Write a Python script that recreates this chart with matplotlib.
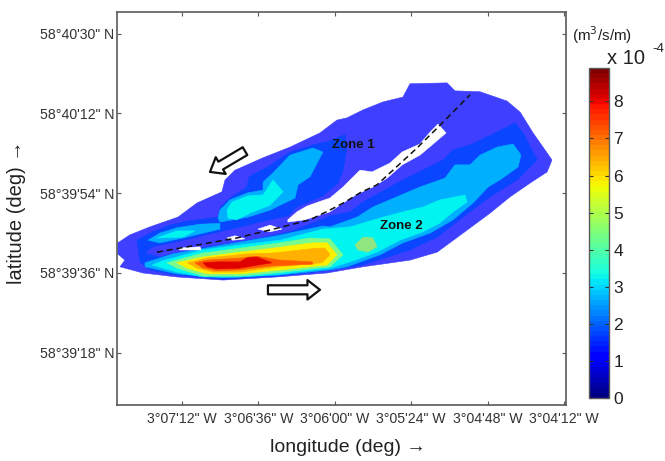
import numpy as np
import matplotlib
matplotlib.use("Agg")
import matplotlib.pyplot as plt
from matplotlib.cm import ScalarMappable
from matplotlib.colors import Normalize
from matplotlib.patches import FancyArrowPatch

plt.rcParams['font.family'] = ['Liberation Sans', 'DejaVu Sans']

# contour outlines, as (lon, lat):
# lon = arcsec east of 3°07'12" W, lat = arcsec north of 58°39'36" N
outer = [(-30.2, 6.8), (-24.5, 8.6), (-15.1, 10.4), (-1.9, 12.6), (7.1, 15.8), (18.8, 18.3), (20.3, 21.0), (25.0, 23.2),
         (38.2, 26.0), (50.9, 28.4), (65.0, 31.6), (73.0, 34.5), (77.7, 35.0), (85.3, 36.8), (94.7, 38.6), (104.1, 39.7),
         (107.4, 42.7), (124.9, 42.9), (128.6, 41.1), (140.4, 40.9), (153.1, 38.8), (159.3, 36.3), (165.4, 31.6),
         (174.3, 25.5), (172.0, 22.8), (164.0, 20.3), (154.6, 17.2), (145.1, 13.5), (132.4, 9.0), (120.2, 4.7),
         (107.4, 2.9), (85.3, 1.4), (68.3, 0.0), (44.8, -0.9), (19.3, -1.6), (-2.4, -0.9), (-18.4, 0.0), (-29.2, 1.4),
         (-26.9, 2.9), (-30.2, 4.3)]
blue = [(-21.2, 7.4), (-15.1, 9.0), (-5.7, 10.8), (2.4, 11.7), (17.0, 12.6), (17.9, 14.7), (22.6, 16.9), (30.6, 19.4),
        (31.6, 21.7), (40.1, 23.9), (50.9, 27.3), (61.7, 28.9), (69.7, 29.8), (76.8, 31.2), (77.7, 27.9), (75.9, 23.2),
        (73.5, 20.3), (66.4, 17.4), (54.2, 14.9), (49.9, 12.9), (41.5, 12.0), (17.9, 9.3), (-0.9, 7.2), (-13.7, 5.9),
        (-17.4, 4.5), (-10.4, 3.6), (8.5, 5.6), (32.0, 7.4), (50.9, 9.3), (66.4, 12.2), (69.7, 12.9), (79.2, 13.8),
        (85.3, 16.0), (101.3, 20.3), (123.0, 25.5), (127.7, 27.8), (135.7, 28.9), (148.4, 31.8), (156.9, 33.9),
        (160.7, 31.6), (167.3, 25.5), (157.9, 21.0), (145.1, 17.2), (132.4, 12.6), (120.2, 8.1), (107.4, 5.2), (85.3, 1.8),
        (68.3, 0.5), (44.8, -0.7), (19.3, -1.4), (-2.4, -0.5), (-15.1, 0.7), (-19.8, 2.5)]
sky_zone1 = [(17.0, 12.4), (17.9, 14.2), (22.6, 16.5), (31.1, 18.1), (38.2, 18.7), (38.2, 20.5), (42.9, 22.6),
             (50.9, 26.6), (61.7, 28.2), (66.4, 27.3), (60.3, 21.7), (54.7, 19.9), (53.2, 16.9), (41.5, 14.2),
             (31.1, 12.6), (17.9, 11.5)]
sky_lobe = [(-16.0, 7.4), (-10.4, 9.0), (-2.4, 10.2), (8.5, 11.0), (17.9, 11.2), (17.9, 9.9), (0.5, 7.9), (-10.4, 6.8)]
sky_zone2 = [(-17.4, 2.3), (-4.2, 4.3), (19.3, 6.3), (44.8, 8.4), (66.4, 10.6), (69.7, 10.4), (82.5, 12.6), (90.0, 14.9),
             (101.3, 17.2), (112.1, 19.4), (123.9, 21.4), (128.6, 24.4), (135.7, 24.4), (140.4, 26.6), (148.4, 28.4),
             (156.0, 29.1), (159.7, 26.6), (158.3, 23.9), (149.8, 21.0), (144.2, 19.4), (137.1, 15.8), (127.7, 12.0),
             (116.9, 9.0), (104.1, 6.8), (93.3, 4.1), (77.7, 1.4), (69.7, 0.7), (44.8, -0.5), (19.3, -1.1), (-2.4, -0.2),
             (-17.4, 1.4)]
cyan_zone1 = [(21.2, 14.2), (23.6, 16.0), (31.1, 17.4), (38.2, 17.6), (42.9, 21.0), (47.6, 18.3), (41.5, 15.3),
              (32.0, 13.5), (25.9, 12.0), (21.7, 12.4)]
cyan_lobe = [(-11.8, 7.9), (-2.4, 9.5), (6.1, 9.5), (0.5, 8.1)]
cyan_zone2 = [(-14.1, 1.8), (-9.4, 2.7), (9.9, 5.2), (27.3, 6.3), (46.2, 7.4), (66.4, 9.9), (79.2, 10.4), (93.3, 12.4),
              (104.1, 13.8), (113.6, 14.9), (121.6, 16.5), (133.3, 17.6), (134.3, 16.0), (127.7, 13.8), (121.6, 11.3),
              (113.6, 9.3), (102.7, 7.4), (91.9, 4.7), (79.2, 2.5), (69.7, 1.1), (47.6, -0.2), (27.3, -0.9), (9.9, -0.9),
              (-2.4, 0.2)]
green_main = [(-7.1, 2.3), (9.9, 4.5), (27.3, 5.6), (46.2, 6.8), (60.3, 7.9), (69.7, 7.7), (75.9, 4.1), (69.7, 1.4),
              (47.6, 0.2), (27.3, -0.7), (9.9, -0.7), (-2.4, 1.1)]
green_spot = [(81.5, 6.3), (85.3, 8.1), (90.0, 7.9), (91.9, 5.9), (87.6, 4.7), (82.9, 5.2)]
yellow = [(-2.4, 2.3), (9.9, 3.6), (27.3, 4.7), (42.9, 5.6), (61.7, 6.8), (68.3, 6.8), (73.0, 4.1), (68.3, 1.8),
          (46.2, 0.7), (27.3, -0.2), (11.8, -0.2), (2.4, 1.1)]
orange = [(2.4, 2.3), (11.8, 3.4), (30.6, 4.3), (42.9, 4.5), (63.6, 5.6), (67.4, 5.6), (69.7, 4.1), (66.0, 2.3),
          (46.2, 1.4), (27.3, 0.2), (14.6, 0.2), (7.1, 1.1)]
orange_red = [(6.1, 2.3), (11.8, 2.9), (28.7, 3.4), (34.4, 3.8), (40.1, 3.4), (46.2, 2.9), (61.3, 2.5), (61.7, 2.0),
              (42.9, 1.6), (27.3, 0.7), (16.5, 0.5), (9.9, 1.1)]
red = [(9.9, 2.3), (16.5, 2.5), (27.3, 2.5), (30.6, 3.4), (35.3, 3.6), (42.4, 2.3), (33.5, 1.6), (27.3, 1.1), (16.5, 0.9),
       (11.8, 1.4)]

# dry patches inside the field
gap_main = [(49.9, 12.0), (54.2, 13.8), (58.9, 15.1), (66.0, 16.3), (69.7, 16.9), (75.9, 19.4), (83.9, 23.2), (89.5, 22.8),
            (98.0, 24.8), (103.7, 27.3), (112.1, 29.1), (116.9, 31.8), (120.6, 33.6), (124.4, 31.6), (117.8, 28.9),
            (112.1, 26.6), (103.7, 24.4), (96.6, 21.4), (90.0, 19.4), (82.5, 17.8), (75.9, 15.8), (69.7, 13.8),
            (66.4, 13.3), (58.0, 12.0), (49.9, 11.5)]
gap_a = [(35.8, 9.9), (41.5, 10.8), (47.1, 9.9), (41.5, 9.3)]
gap_b = [(21.2, 7.9), (25.0, 8.4), (29.7, 7.7), (24.0, 7.4)]
gap_c = [(-1.9, 5.6), (8.5, 5.9), (9.0, 5.2), (-0.9, 5.2)]

divider = [(-11.8, 4.7), (2.4, 5.9), (25.9, 7.9), (41.5, 9.7), (60.3, 12.0), (69.7, 14.2), (76.8, 16.0), (83.9, 18.1),
           (91.9, 19.9), (99.4, 23.2), (110.7, 28.2), (120.2, 32.7), (135.7, 40.2)]

x_ticks = [0, 36, 72, 108, 144, 180]
x_labels = ['3°07\'12" W', '3°06\'36" W', '3°06\'00" W', '3°05\'24" W', '3°04\'48" W', '3°04\'12" W']
y_ticks = [-18, 0, 18, 36, 54]
y_labels = ['58°39\'18" N', '58°39\'36" N', '58°39\'54" N', '58°40\'12" N', '58°40\'30" N']
cbar_ticks = [0, 1, 2, 3, 4, 5, 6, 7, 8]

W, H = 665, 461
GRAY = '#5a5a5a'
TXT = '#333333'


def fill(ax, outline, color, z):
    pts = np.array(outline)
    ax.fill(pts[:, 0], pts[:, 1], facecolor=color, edgecolor=color, linewidth=0.4, zorder=z)


def block_arrow(ax, tail, tip):
    ax.add_patch(FancyArrowPatch(tail, tip, mutation_scale=1, shrinkA=0, shrinkB=0, zorder=9, facecolor='white',
                                 edgecolor='#111111', linewidth=1.6,
                                 arrowstyle='simple,head_length=9,head_width=14,tail_width=6.5'))


def main():
    fig = plt.figure(figsize=(W / 100, H / 100), dpi=100)
    ax = fig.add_axes([117 / W, 1 - 405 / H, 449 / W, 393 / H])

    fill(ax, outer, '#3f3fff', 1)
    fill(ax, blue, '#0a46ff', 2)
    for part in (sky_zone1, sky_lobe, sky_zone2):
        fill(ax, part, '#00b0ff', 3)
    for part in (cyan_zone1, cyan_lobe, cyan_zone2):
        fill(ax, part, '#00f5f0', 4)
    fill(ax, green_main, '#7dfa8c', 5)
    fill(ax, green_spot, '#8fe680', 5)
    fill(ax, yellow, '#fff000', 6)
    fill(ax, orange, '#ffb000', 7)
    fill(ax, orange_red, '#ff5a00', 8)
    fill(ax, red, '#e00000', 8.5)
    for part in (gap_main, gap_a, gap_b, gap_c):
        fill(ax, part, 'white', 8.7)

    line = np.array(divider)
    ax.plot(line[:, 0], line[:, 1], color='#111111', linewidth=1.1, linestyle=(0, (4, 2.5)), zorder=9)
    block_arrow(ax, (29.7, 27.5), (13.2, 22.8))
    block_arrow(ax, (40.5, -3.8), (65.0, -3.8))
    ax.text(80.8, 28.9, 'Zone 1', fontsize=9.5, fontweight='bold', color='#111111', ha='center', va='center', zorder=10)
    ax.text(103.4, 10.6, 'Zone 2', fontsize=9.5, fontweight='bold', color='#111111', ha='center', va='center', zorder=10)

    ax.set_xlim(-30.6, 180.9)
    ax.set_ylim(-29.8, 58.9)
    ax.set_xticks(x_ticks)
    ax.set_xticklabels(x_labels, fontsize=10.2, color=TXT)
    ax.set_yticks(y_ticks)
    ax.set_yticklabels(y_labels, fontsize=10.2, color=TXT)
    ax.tick_params(direction='in', length=3, width=0.8, color=GRAY, top=True, right=True)
    ax.tick_params(axis='x', pad=5)
    ax.tick_params(axis='y', pad=2)
    for spine in ax.spines.values():
        spine.set_color(GRAY)
        spine.set_linewidth(1.2)
    ax.set_xlabel('longitude (deg) →', fontsize=14, color='#222222')
    ax.xaxis.set_label_coords((348 - 117) / 449, -(447 - 405) / 393, transform=ax.transAxes)
    ax.xaxis.label.set_va('center')
    ax.set_ylabel('latitude (deg) →', fontsize=14.5, color='#222222')
    ax.yaxis.set_label_coords((17 - 117) / 449, (405 - 212) / 393, transform=ax.transAxes)
    ax.yaxis.label.set_va('center')

    cax = fig.add_axes([589 / W, 1 - 398 / H, 20 / W, 330 / H])
    sm = ScalarMappable(norm=Normalize(0, 8.9), cmap=plt.get_cmap('jet', 64))
    cbar = fig.colorbar(sm, cax=cax)
    cbar.set_ticks(cbar_ticks)
    cbar.ax.tick_params(direction='in', length=3, width=0.8, color='#333333', labelsize=12.5, labelcolor='#222222', pad=3,
                        left=True, right=True)
    cbar.outline.set_edgecolor(GRAY)
    cbar.outline.set_linewidth(1.0)

    fig.text(572 / W, 1 - 35 / H, '(m$^{3}$/s/m)', fontsize=11, color='#222222', va='center', ha='left')
    fig.text(607 / W, 1 - 58 / H, 'x 10', fontsize=14.5, color='#222222', va='center', ha='left')
    fig.text(652 / W, 1 - 49 / H, '-4', fontsize=9.5, color='#222222', va='center', ha='left')

    fig.savefig('out.png', dpi=100)


if __name__ == "__main__":
    main()
